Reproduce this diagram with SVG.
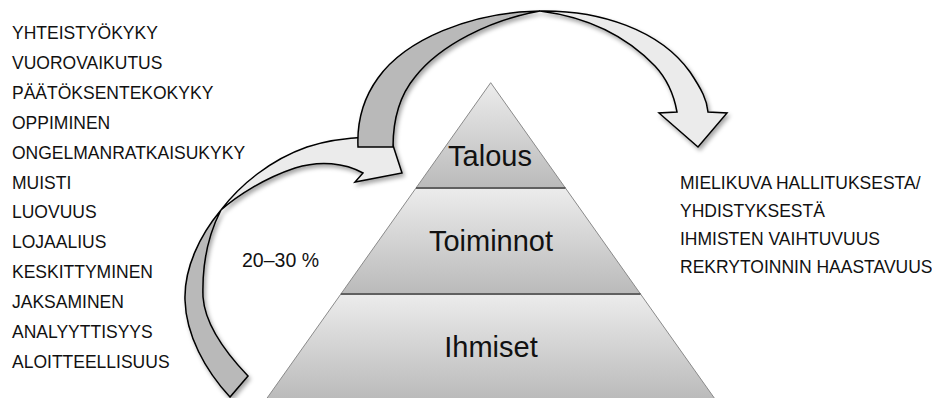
<svg xmlns="http://www.w3.org/2000/svg" width="932" height="398" viewBox="0 0 932 398">
  <defs>
    <linearGradient id="band" x1="0" y1="0" x2="0" y2="1">
      <stop offset="0" stop-color="#ececec"/>
      <stop offset="1" stop-color="#bababa"/>
    </linearGradient>
    <filter id="shadow" x="-20%" y="-20%" width="140%" height="140%">
      <feDropShadow dx="2" dy="3" stdDeviation="2" flood-color="#000" flood-opacity="0.35"/>
    </filter>
    <style>
      .txt { font-family: "Liberation Sans", Arial, sans-serif; fill: #111; }
      .list { font-size: 17.5px; }
      .big { font-size: 29px; text-anchor: middle; fill: #111; }
      .band { fill: url(#band); stroke: #8a8a8a; stroke-width: 1; }
      .sep { stroke: #4a4a4a; stroke-width: 1.4; }
      .back { fill: #b9b9b9; stroke: #000; stroke-width: 1.5; stroke-linejoin: miter; }
      .front { fill: #ebebeb; stroke: #000; stroke-width: 1.5; stroke-linejoin: miter; }
    </style>
  </defs>
  <rect width="932" height="398" fill="#fff"/>

  <g id="node-ihmiset">
    <polygon class="band" points="340.9,294 640.5,294 715.7,400 265.7,400"/>
    <text class="txt big" x="491" y="357">Ihmiset</text>
  </g>
  <g id="node-toiminnot">
    <polygon class="band" points="416,188 565.4,188 640.5,294 340.9,294"/>
    <text class="txt big" x="491" y="251">Toiminnot</text>
  </g>
  <g id="node-talous">
    <polygon class="band" points="490.7,82.7 565.4,188 416,188"/>
    <text class="txt big" x="490" y="166">Talous</text>
  </g>
  <g id="separators">
    <line class="sep" x1="416" y1="188" x2="565.4" y2="188"/>
    <line class="sep" x1="340.9" y1="294" x2="640.5" y2="294"/>
  </g>

  <g id="left-list" class="txt list">
    <text x="12" y="39">YHTEISTYÖKYKY</text>
    <text x="12" y="69">VUOROVAIKUTUS</text>
    <text x="12" y="99">PÄÄTÖKSENTEKOKYKY</text>
    <text x="12" y="129">OPPIMINEN</text>
    <text x="12" y="159">ONGELMANRATKAISUKYKY</text>
    <text x="12" y="189">MUISTI</text>
    <text x="12" y="218">LUOVUUS</text>
    <text x="12" y="248">LOJAALIUS</text>
    <text x="12" y="278">KESKITTYMINEN</text>
    <text x="12" y="308">JAKSAMINEN</text>
    <text x="12" y="338">ANALYYTTISYYS</text>
    <text x="12" y="368">ALOITTEELLISUUS</text>
  </g>

  <g id="right-list" class="txt list">
    <text x="680" y="189">MIELIKUVA HALLITUKSESTA/</text>
    <text x="680" y="217">YHDISTYKSESTÄ</text>
    <text x="680" y="245">IHMISTEN VAIHTUVUUS</text>
    <text x="680" y="273">REKRYTOINNIN HAASTAVUUS</text>
  </g>

  <g id="label-percent">
    <text class="txt" x="242" y="267" font-size="19.5">20–30 %</text>
  </g>

  <g id="connectors" filter="url(#shadow)">
    <g id="arrow-left">
      <path class="back" d="M221,210 C200,235 184,268 185,300 C186,335 205,370 230,397 L248,376 C225,352 205,325 203,297 C202,265 208,235 221,210 Z"/>
      <path class="front" d="M221,210 C240,185 270,160 307,147 C325,141 345,138 368,137 L388,130 L402,173 L355,182 L363,173 C345,163 320,160 295,168 C265,178 238,195 221,210 Z"/>
    </g>
    <g id="arrow-top">
      <path class="back" d="M540,11 C470,12 405,40 378,78 C362,100 357,125 358,147 L393,147 C393,120 400,95 415,77 C440,45 490,20 540,11 Z"/>
      <path class="front" fill="#f0f0f0" d="M540,11 C600,10 660,30 690,72 C702,90 707,100 708,112 L727,113 L698,147 L659,113 L677,112 C674,95 668,80 655,66 C630,40 595,18 540,11 Z"/>
    </g>
  </g>
</svg>
